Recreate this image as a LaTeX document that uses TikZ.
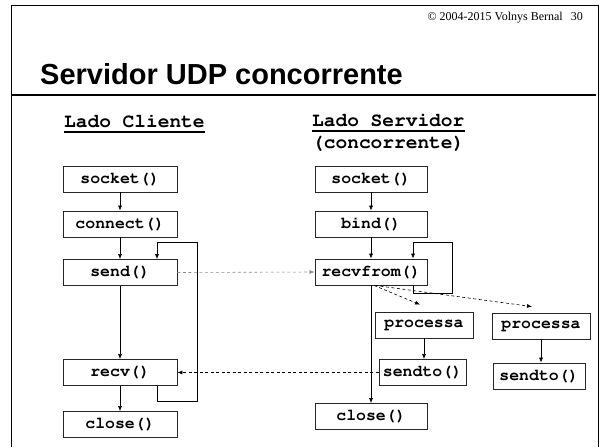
\documentclass[tikz,border=0pt]{standalone}
\usepackage[T1]{fontenc}
\usepackage{fontspec}
\setmainfont{Liberation Serif}
\newfontfamily\titlefont{Liberation Sans}
\newcommand\crfont{\fontencoding{T1}\fontfamily{pcr}\fontseries{b}\selectfont}
\usetikzlibrary{calc,arrows.meta}
\begin{document}
\begin{tikzpicture}[x=1pt,y=-1pt,
  box/.style={draw=black!85, line width=0.8pt, minimum height=26pt, inner sep=0pt,
    font=\fontsize{16.5}{18}\crfont},
  head/.style={anchor=base west, inner sep=0pt, font=\fontsize{19.5}{22}\crfont},
  arr/.style={-{Latex[length=5pt,width=4pt]}, line width=0.6pt},
  dsh/.style={dash pattern=on 3pt off 2.5pt}]
\useasboundingbox (0,0) rectangle (602,447);
% frame
\draw[line width=1pt] (11,447) -- (11,5) -- (598,5) -- (598,447);
\draw[line width=2.5pt] (11,95) -- (596,95);
% header texts
\node[anchor=base east, inner sep=0pt, font=\fontsize{12}{14}\selectfont] (copy) at (563,20) {© 2004-2015 Volnys Bernal};
\node[anchor=base east, inner sep=0pt, font=\fontsize{12}{14}\selectfont] (page) at (583,20) {30};
\node[anchor=base west, inner sep=0pt, font=\titlefont\bfseries\fontsize{29}{33}\selectfont] (title) at (40,84) {Servidor UDP concorrente};
% headings
\node[head] (lc) at (64,127) {Lado Cliente};
\draw[line width=1.2pt] ($(lc.base west)+(0,5)$) -- ($(lc.base east)+(0,5)$);
\node[head] (ls) at (312,126) {Lado Servidor};
\draw[line width=1.2pt] ($(ls.base west)+(0,5)$) -- ($(ls.base east)+(0,5)$);
\node[head] (lconc) at (312,148.5) {(concorrente)};
% client boxes
\node[box, minimum width=114pt] (csock) at (120,179) {socket()};
\node[box, minimum width=114pt] (cconn) at (120,224) {connect()};
\node[box, minimum width=114pt] (csend) at (120,272.5) {send()};
\node[box, minimum width=114pt] (crecv) at (120,372.5) {recv()};
\node[box, minimum width=114pt] (cclose) at (120,424.5) {close()};
% server boxes
\node[box, minimum width=112pt] (ssock) at (371,179) {socket()};
\node[box, minimum width=112pt] (sbind) at (371,224) {bind()};
\node[box, minimum width=112pt] (srecv) at (371,272) {recvfrom()};
\node[box, minimum width=112pt] (sclose) at (371,416.5) {close()};
\node[box, minimum width=98pt] (proc1) at (424,325) {processa};
\node[box, minimum width=98pt] (proc2) at (541,326) {processa};
\node[box, minimum width=87pt] (sendto1) at (422.5,372.5) {sendto()};
\node[box, minimum width=92pt] (sendto2) at (539,376) {sendto()};
% client arrows
\draw[arr] (csock) -- (cconn);
\draw[arr] (cconn) -- (csend);
\draw[arr] (csend) -- (crecv);
\draw[arr] (crecv) -- (cclose);
\draw[arr] ($(crecv.south)+(37,0)$) -- ++(0,15) -- ++(40,0) |- ($(csend.north)+(37,-17)$) -- ($(csend.north)+(37,0)$);
% server arrows
\draw[arr] (ssock) -- (sbind);
\draw[arr] (sbind) -- (srecv);
\draw[arr] (srecv) -- (sclose);
\draw[arr] ($(srecv.south)+(42,0)$) -- ++(0,8) -- ++(39,0) |- ($(srecv.north)+(42,-16)$) -- ($(srecv.north)+(42,0)$);
\draw[arr] (proc1.south) -- (proc1.south |- sendto1.north);
\draw[arr] (proc2.south) -- (proc2.south |- sendto2.north);
% dashed messages
\draw[arr, dsh, draw=black!45] (csend.east) -- (srecv.west);
\draw[arr, dsh] (sendto1.west) -- (crecv.east);
\draw[arr, dsh] ($(srecv.south)+(3,0)$) -- ($(proc1.north)+(-4,-7)$);
\draw[arr, dsh] ($(srecv.south)+(4,0)$) -- ($(proc2.north)+(-9,-6)$);
\end{tikzpicture}
\end{document}
